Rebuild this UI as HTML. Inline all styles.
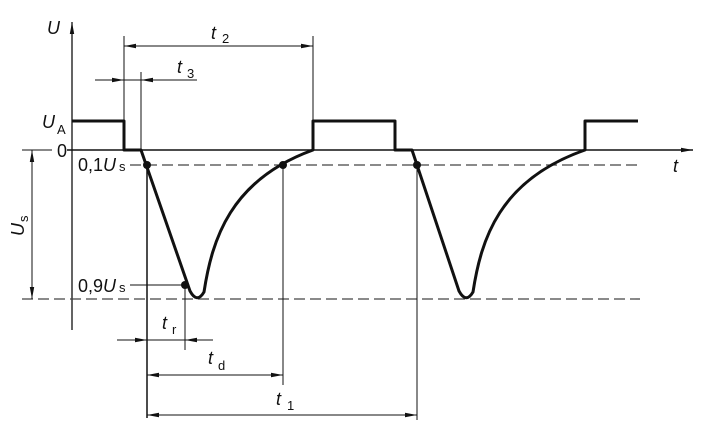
<!DOCTYPE html>
<html><head><style>
body{margin:0;background:#fff}
text{font-family:"Liberation Sans",sans-serif;fill:#111}
.i{font-style:italic}
</style></head><body>
<svg width="709" height="434" viewBox="0 0 709 434" xmlns="http://www.w3.org/2000/svg">
<defs>
<marker id="a" markerWidth="12" markerHeight="6" refX="12" refY="3" orient="auto" markerUnits="userSpaceOnUse"><path d="M0,0.8 L12,3 L0,5.2 z" fill="#111"/></marker>
<marker id="b" markerWidth="12" markerHeight="6" refX="0" refY="3" orient="auto" markerUnits="userSpaceOnUse"><path d="M12,0.8 L0,3 L12,5.2 z" fill="#111"/></marker>
</defs>
<g stroke="#111" fill="none">
<line x1="72" y1="330" x2="72" y2="22" stroke-width="1.3" marker-end="url(#a)"/>
<line x1="22" y1="150" x2="52" y2="150" stroke-width="1"/>
<line x1="67" y1="150" x2="693" y2="150" stroke-width="1.5" marker-end="url(#a)"/>
<line x1="130" y1="165" x2="640" y2="165" stroke="#444" stroke-width="1.3" stroke-dasharray="11,5"/>
<line x1="22" y1="299" x2="640" y2="299" stroke="#444" stroke-width="1.3" stroke-dasharray="11,5"/>
<path d="M72,121 H124 V150 H141 L190,291 Q197,304 204,292 C212,240 230,180 313,150 V121 H395 V150 H412 L459,291 Q466,304 473,292 C481,240 499,180 585,150 V121 H638" stroke-width="3" stroke-linejoin="round"/>
<g stroke-width="1">
<line x1="124" y1="36" x2="124" y2="121"/>
<line x1="141" y1="72" x2="141" y2="150"/>
<line x1="313" y1="36" x2="313" y2="121"/>
<line x1="147" y1="165" x2="147" y2="418" stroke-width="1.5"/>
<line x1="283" y1="165" x2="283" y2="385"/>
<line x1="417" y1="165" x2="417" y2="420"/>
<line x1="185" y1="285" x2="185" y2="350"/>
<line x1="130" y1="285" x2="185" y2="285"/>
<line x1="124" y1="46" x2="313" y2="46" marker-start="url(#b)" marker-end="url(#a)"/>
<line x1="95" y1="80" x2="124" y2="80" marker-end="url(#a)"/>
<line x1="124" y1="80" x2="141" y2="80"/>
<line x1="197" y1="80" x2="141" y2="80" marker-end="url(#a)"/>
<line x1="117" y1="340" x2="147" y2="340" marker-end="url(#a)"/>
<line x1="147" y1="340" x2="185" y2="340"/>
<line x1="213" y1="340" x2="185" y2="340" marker-end="url(#a)"/>
<line x1="147" y1="375" x2="283" y2="375" marker-start="url(#b)" marker-end="url(#a)"/>
<line x1="147" y1="415" x2="417" y2="415" marker-start="url(#b)" marker-end="url(#a)"/>
<line x1="32" y1="150" x2="32" y2="299" marker-start="url(#b)" marker-end="url(#a)"/>
</g>
</g>
<g fill="#111">
<circle cx="147" cy="165" r="4"/><circle cx="283" cy="165" r="4"/><circle cx="417" cy="165" r="4"/><circle cx="185" cy="285" r="4"/>
</g>
<g font-size="18">
<text x="47" y="34" class="i">U</text>
<text x="673" y="172" class="i">t</text>
<text x="42" y="128" class="i">U</text><text x="57" y="134" font-size="13">A</text>
<text x="57" y="157">0</text>
<text x="78" y="171">0,1<tspan class="i">U</tspan><tspan font-size="13" dx="3">s</tspan></text>
<text x="78" y="292">0,9<tspan class="i">U</tspan><tspan font-size="13" dx="3">s</tspan></text>
<text x="211" y="39" class="i">t</text><text x="222" y="43" font-size="13">2</text>
<text x="177" y="73" class="i">t</text><text x="187" y="78" font-size="13">3</text>
<text x="162" y="329" class="i">t</text><text x="172" y="334" font-size="13">r</text>
<text x="208" y="364" class="i">t</text><text x="218" y="370" font-size="13">d</text>
<text x="276" y="405" class="i">t</text><text x="287" y="410" font-size="13">1</text>
<g transform="translate(24,228) rotate(-90)"><text x="-8" y="0" class="i">U</text><text x="6" y="4" font-size="13">s</text></g>
</g>
</svg>
</body></html>
